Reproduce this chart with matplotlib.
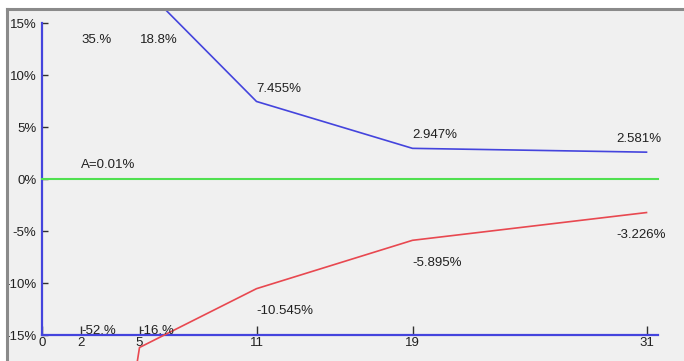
import matplotlib
matplotlib.use("Agg")
import matplotlib.pyplot as plt
from matplotlib.lines import Line2D

# data
x_pos = [2, 5, 11, 19, 31]
upper_vals = [35.0, 18.8, 7.455, 2.947, 2.581]
upper_labels = ["35.%", "18.8%", "7.455%", "2.947%", "2.581%"]
lower_vals = [-52.0, -16.2, -10.545, -5.895, -3.226]
lower_labels = ["-52.%", "-16.%", "-10.545%", "-5.895%", "-3.226%"]
avg_val = 0.01
avg_label = "A=0.01%"
x_ticks = [0, 2, 5, 11, 19, 31]
y_ticks = [-15, -10, -5, 0, 5, 10, 15]
y_ticklabels = ["-15%", "-10%", "-5%", "0%", "5%", "10%", "15%"]

plt.rcParams['font.family'] = ['Liberation Sans', 'DejaVu Sans']
TXT = '#202020'
BLUE = '#4444dd'
RED = '#e84850'
GREEN = '#50e050'
FS = 9.5

fig = plt.figure(figsize=(6.84, 3.61), dpi=100)
fig.patch.set_facecolor('white')

# axes covers the grey panel; limits chosen so 0..31 / -15..15 land where the reference has them
W, H = 684, 361
ax = fig.add_axes([7 / W, 0, 1 - 7 / W, 1 - 9 / H])
ax.set_facecolor('#f0f0f0')
px_x = 19.5   # pixels per x unit
px_y = 10.4   # pixels per 1%
x0_px, y0_px = 42, 179
ax.set_xlim((7 - x0_px) / px_x, (W - x0_px) / px_x)
ax.set_ylim(-(H - y0_px) / px_y, (y0_px - 9) / px_y)

x_end = 31.6
ax.spines['top'].set_visible(False)
ax.spines['right'].set_visible(False)
ax.spines['left'].set_position(('data', 0))
ax.spines['bottom'].set_position(('data', -15))
ax.spines['left'].set_bounds(-15, 15)
ax.spines['bottom'].set_bounds(0, x_end)
for s in ['left', 'bottom']:
    ax.spines[s].set_color(BLUE)
    ax.spines[s].set_linewidth(1.6)

ax.set_xticks(x_ticks)
ax.set_xticklabels([str(t) for t in x_ticks])
ax.set_yticks(y_ticks)
ax.set_yticklabels(y_ticklabels)
ax.tick_params(axis='y', direction='in', length=4, width=1, color='#303030',
               pad=4, labelsize=FS, labelcolor=TXT)
ax.tick_params(axis='x', direction='in', length=6.5, width=1, color='#303030',
               pad=1.5, labelsize=FS, labelcolor=TXT)

# lines
ax.plot([0, x_end], [avg_val, avg_val], color=GREEN, lw=1.5, zorder=3)
ax.plot(x_pos, upper_vals, color=BLUE, lw=1.2, zorder=3)
ax.plot(x_pos, lower_vals, color=RED, lw=1.2, zorder=3)

ax.annotate(avg_label, (2, avg_val), xytext=(0, 6), textcoords='offset points',
            ha='left', va='bottom', fontsize=FS, color=TXT)

ymax, ymin = 15, -15
last = len(x_pos) - 1
for i, (xv, v, lab) in enumerate(zip(x_pos, upper_vals, upper_labels)):
    ha = 'right' if i == last else 'left'
    dx = 11 if i == last else 0
    if v > ymax:
        ax.annotate(lab, (xv, ymax), xytext=(0, -12.5), textcoords='offset points',
                    ha='left', va='center', fontsize=FS, color=TXT)
    else:
        ax.annotate(lab, (xv, v), xytext=(dx, 5), textcoords='offset points',
                    ha=ha, va='bottom', fontsize=FS, color=TXT)

for i, (xv, v, lab) in enumerate(zip(x_pos, lower_vals, lower_labels)):
    ha = 'right' if i == last else 'left'
    dx = 14 if i == last else 0
    if v < ymin:
        ax.annotate(lab, (xv, ymin), xytext=(0, 3), textcoords='offset points',
                    ha='left', va='center', fontsize=FS, color=TXT)
    else:
        ax.annotate(lab, (xv, v), xytext=(dx, -12), textcoords='offset points',
                    ha=ha, va='top', fontsize=FS, color=TXT)

# grey frame on the top and left edge of the panel
fig.add_artist(Line2D([7 / W, 1], [1 - 9 / H, 1 - 9 / H], color='#8a8a8a', lw=2.2))
fig.add_artist(Line2D([7 / W, 7 / W], [0, 1 - 9 / H], color='#8a8a8a', lw=2.2))

fig.savefig('out.png', dpi=100, facecolor=fig.get_facecolor())
